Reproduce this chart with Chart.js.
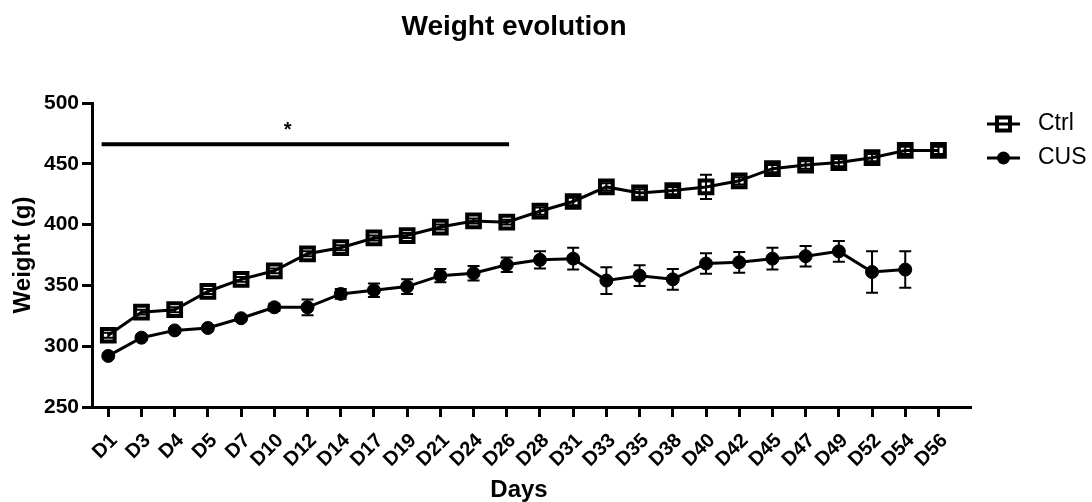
<!DOCTYPE html>
<html>
<head>
<meta charset="utf-8">
<title>Weight evolution</title>
<script src="https://cdn.jsdelivr.net/npm/chart.js@4.4.1/dist/chart.umd.min.js"></script>
<style>
  body { margin: 0; background: #fff; }
  #wrap { width: 1092px; height: 502px; position: relative; }
</style>
</head>
<body>
<div id="wrap"><canvas id="myChart"></canvas></div>
<script>
const days = ["D1", "D3", "D4", "D5", "D7", "D10", "D12", "D14", "D17", "D19", "D21", "D24", "D26",
  "D28", "D31", "D33", "D35", "D38", "D40", "D42", "D45", "D47", "D49", "D52", "D54", "D56"];

const ctrlMean = [309, 328, 330, 345, 355, 362, 376, 381, 389, 391, 398, 403, 402,
  411, 419, 431, 426, 428, 431, 436, 446, 449, 451, 455, 461, 461];
const ctrlSem = [2, 2, 2, 2, 2, 2, 2, 2, 2, 2, 2, 2, 2,
  3, 3, 3, 3, 3, 10, 3, 3, 3, 3, 3, 3, 3];

const cusMean = [292, 307, 313, 315, 323, 332, 332, 343, 346, 349, 358, 360, 367,
  371, 372, 354, 358, 355, 368, 369, 372, 374, 378, 361, 363, null];
const cusSem = [2, 2, 2, 2, 2, 3, 6.5, 4, 5.5, 6, 5.5, 6, 6,
  7, 9, 11, 8.5, 8.5, 8.5, 8.5, 9, 8.5, 8.5, 17, 15, null];

const yTicks = [250, 300, 350, 400, 450, 500];

// significance bar: from D1 to D26, star above it
const sigSpan = [-0.2, 12.07];
const sigLevel = 466;
const starAt = 5.4;

const FONT = '"Liberation Sans", Arial, sans-serif';

// error bars (mean +/- sem) drawn under the markers
const errorBars = {
  id: "errorBars",
  beforeDatasetsDraw(chart) {
    const { ctx, scales: { x, y } } = chart;
    ctx.save();
    ctx.strokeStyle = "#000";
    ctx.lineWidth = 2;
    [[ctrlMean, ctrlSem], [cusMean, cusSem]].forEach(([mean, sem]) => {
      mean.forEach((m, i) => {
        if (m == null || !sem[i]) return;
        const px = x.getPixelForValue(i);
        const top = y.getPixelForValue(m + sem[i]);
        const bot = y.getPixelForValue(m - sem[i]);
        ctx.beginPath();
        ctx.moveTo(px, top);
        ctx.lineTo(px, bot);
        ctx.moveTo(px - 6, top);
        ctx.lineTo(px + 6, top);
        ctx.moveTo(px - 6, bot);
        ctx.lineTo(px + 6, bot);
        ctx.stroke();
      });
    });
    ctx.restore();
  },
};

// title, x title, star and legend
const extras = {
  id: "extras",
  afterDraw(chart) {
    const { ctx, chartArea, scales: { x, y } } = chart;
    ctx.save();
    ctx.fillStyle = "#000";
    ctx.textAlign = "center";
    ctx.textBaseline = "alphabetic";

    ctx.font = "bold 28px " + FONT;
    ctx.fillText("Weight evolution", 514, 35);

    ctx.font = "bold 24px " + FONT;
    ctx.fillText("Days", 519, 497);

    ctx.font = "bold 20px " + FONT;
    ctx.fillText("*", x.getPixelForValue(starAt), y.getPixelForValue(sigLevel) - 8);

    // legend
    const lx = chartArea.right + 16;
    const items = [
      { label: "Ctrl", y: 124, square: true },
      { label: "CUS", y: 158, square: false },
    ];
    items.forEach((it) => {
      ctx.strokeStyle = "#000";
      ctx.lineWidth = 3;
      ctx.beginPath();
      ctx.moveTo(lx, it.y);
      ctx.lineTo(lx + 33, it.y);
      ctx.stroke();
      const cx = lx + 16.5;
      if (it.square) {
        ctx.lineWidth = 4;
        ctx.strokeRect(cx - 6.5, it.y - 6.5, 13, 13);
      } else {
        ctx.beginPath();
        ctx.arc(cx, it.y, 6.5, 0, Math.PI * 2);
        ctx.fill();
      }
      ctx.font = "23px " + FONT;
      ctx.textAlign = "left";
      ctx.textBaseline = "middle";
      ctx.fillText(it.label, lx + 51, it.y);
    });
    ctx.restore();
  },
};

const ctx = document.querySelector("#myChart").getContext("2d");
const chart = new Chart(ctx, {
  type: "line",
  data: {
    datasets: [
      {
        label: "Ctrl",
        data: ctrlMean.map((v, i) => ({ x: i, y: v })),
        borderColor: "#000",
        borderWidth: 3,
        pointStyle: "rect",
        pointRadius: 9,
        pointBorderWidth: 4,
        pointBorderColor: "#000",
        pointBackgroundColor: "rgba(0,0,0,0)",
      },
      {
        label: "CUS",
        data: cusMean.map((v, i) => ({ x: i, y: v })),
        borderColor: "#000",
        borderWidth: 3,
        pointStyle: "circle",
        pointRadius: 6.5,
        pointBorderWidth: 1,
        pointBorderColor: "#000",
        pointBackgroundColor: "#000",
      },
      {
        label: "sig",
        data: sigSpan.map((v) => ({ x: v, y: sigLevel })),
        borderColor: "#000",
        borderWidth: 4,
        pointRadius: 0,
      },
    ],
  },
  options: {
    responsive: true,
    maintainAspectRatio: false,
    animation: false,
    events: [],
    layout: { padding: { left: 5, right: 121, top: 103, bottom: 0 } },
    plugins: {
      legend: { display: false },
      title: { display: false },
      tooltip: { enabled: false },
    },
    scales: {
      x: {
        type: "linear",
        min: -0.49,
        max: 25.98,
        afterFit: (scale) => {
          scale.height = 95;
        },
        grid: {
          drawOnChartArea: false,
          drawTicks: true,
          tickLength: 10,
          tickWidth: 3,
          tickColor: "#000",
        },
        border: { display: true, color: "#000", width: 3 },
        ticks: {
          stepSize: 1,
          includeBounds: false,
          autoSkip: false,
          minRotation: 45,
          maxRotation: 45,
          labelOffset: 6,
          padding: 12,
          color: "#000",
          font: { family: FONT, size: 20, weight: "bold" },
          callback: (value) => days[value] || "",
        },
      },
      y: {
        min: 250,
        max: 500,
        afterFit: (scale) => {
          scale.width = 87;
        },
        afterBuildTicks: (scale) => {
          scale.ticks = yTicks.map((v) => ({ value: v }));
        },
        grid: {
          drawOnChartArea: false,
          drawTicks: true,
          tickLength: 10,
          tickWidth: 3,
          tickColor: "#000",
        },
        border: { display: true, color: "#000", width: 3 },
        ticks: {
          padding: 3,
          color: "#000",
          font: { family: FONT, size: 21, weight: "bold" },
        },
        title: {
          display: true,
          text: "Weight (g)",
          color: "#000",
          font: { family: FONT, size: 24, weight: "bold" },
          padding: { top: 4, bottom: 4 },
        },
      },
    },
  },
  plugins: [errorBars, extras],
});
</script>
</body>
</html>
